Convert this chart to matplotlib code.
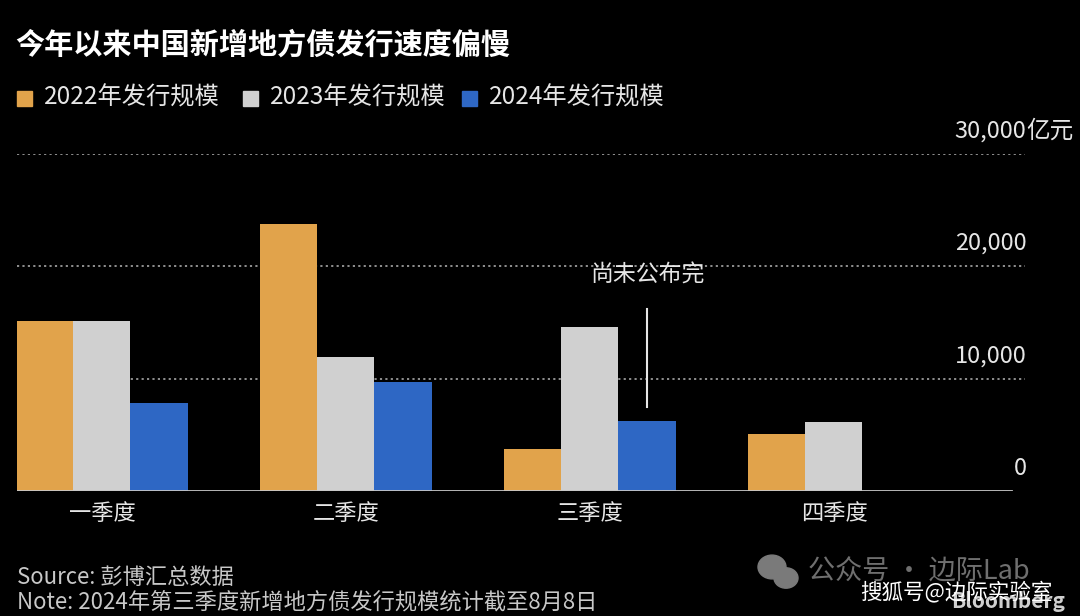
import matplotlib.pyplot as plt
from matplotlib.patches import Ellipse
import numpy as np

plt.rcParams['font.family'] = ['Noto Sans CJK SC', 'DejaVu Sans']

# 数据（单位：亿元，按图读取估计）
quarters = ['一季度', '二季度', '三季度', '四季度']
series_names = ['2022年发行规模', '2023年发行规模', '2024年发行规模']
issue_2022 = [15100, 23800, 3700, 5100]
issue_2023 = [15100, 11900, 14600, 6100]
issue_2024 = [7800, 9700, 6250, None]
colors = ['#E1A34B', '#D0D0D0', '#2E67C4']
y_ticks = [0, 10000, 20000, 30000]
y_labels = ['0', '10,000', '20,000', '30,000亿元']

fig = plt.figure(figsize=(10.8, 6.16), dpi=100, facecolor='black')
ax = fig.add_axes([17 / 1080, 125 / 616, 1008 / 1080, 337 / 616])
ax.set_facecolor('black')

x = np.arange(len(quarters))
w = 0.234
for i, (vals, c) in enumerate(zip([issue_2022, issue_2023, issue_2024], colors)):
    xs = [xx + (i - 1) * w for xx, v in zip(x, vals) if v is not None]
    hs = [v for v in vals if v is not None]
    ax.bar(xs, hs, width=w, color=c, zorder=3, linewidth=0)

ax.set_xlim(-0.348, 3.783)
ax.set_ylim(0, 30000)

# 虚线网格
for t in y_ticks[1:]:
    ax.axhline(t, color='#9a9a9a', linestyle=(0, (1.2, 1.8)), linewidth=1.3, zorder=1)
ax.axhline(0, xmin=0, xmax=0.986, color='#c8c8c8', linewidth=2, zorder=4)

for s in ax.spines.values():
    s.set_visible(False)
ax.set_xticks(x)
ax.set_xticklabels(quarters, color='#e6e6e6', fontsize=16)
ax.tick_params(axis='x', length=0, pad=8)
ax.set_yticks([])

# 右侧刻度标签（数字右对齐，单位接在最上面一个后面）
trans = ax.get_yaxis_transform()
for t, lab in zip(y_ticks, y_labels):
    num = lab.replace('亿元', '')
    ax.text(1.0015, t + 1000, num, transform=trans, ha='right', va='bottom',
            color='#e6e6e6', fontsize=17)
    if lab != num:
        ax.text(1.0015, t + 1000, '亿元', transform=trans, ha='left', va='bottom',
                color='#e6e6e6', fontsize=17, clip_on=False)

# 注释
ax.plot([2.234, 2.234], [7500, 16200], color='#e6e6e6', linewidth=1.5, zorder=4)
ax.text(2.234, 19200, '尚未公布完', ha='center', va='center', color='#e6e6e6', fontsize=16.5)

# 标题与图例
fig.text(15 / 1080, 1 - 45 / 616, '今年以来中国新增地方债发行速度偏慢',
         color='white', fontsize=21, fontweight='bold', va='center', ha='left')
leg_x = [17, 243, 462]
for lx, name, c in zip(leg_x, series_names, colors):
    fig.patches.append(plt.Rectangle((lx / 1080, 1 - 106 / 616), 15 / 1080, 15 / 616,
                                     transform=fig.transFigure, color=c, figure=fig))
    fig.text((lx + 27) / 1080, 1 - 98 / 616, name, color='#e6e6e6', fontsize=17.5,
             va='center', ha='left')

# 脚注
fig.text(17 / 1080, 1 - 577 / 616, 'Source: 彭博汇总数据', color='#c8c8c8', fontsize=16,
         va='center', ha='left')
fig.text(17 / 1080, 1 - 602 / 616, 'Note: 2024年第三季度新增地方债发行规模统计截至8月8日',
         color='#c8c8c8', fontsize=16, va='center', ha='left')

# 水印
fig.text(1065 / 1080, 1 - 602 / 616, 'Bloomberg', color='#cfcfcf', fontsize=15,
         fontweight='bold', va='center', ha='right')
for cx, cy, r in [(772, 567, 14), (786, 578, 12)]:
    fig.patches.append(Ellipse((cx / 1080, 1 - cy / 616), 2 * r / 1080, 1.7 * r / 616,
                               transform=fig.transFigure, color='#7a7a7a', figure=fig))
fig.text(808 / 1080, 1 - 572 / 616, '公众号 · 边际Lab', color='#6f6f6f', fontsize=19.5,
         va='center', ha='left')
fig.text(860 / 1080, 1 - 592 / 616, '搜狐号@边际实验室', color='white', fontsize=15.5,
         va='center', ha='left')

fig.savefig('out.png', dpi=100, facecolor='black')
